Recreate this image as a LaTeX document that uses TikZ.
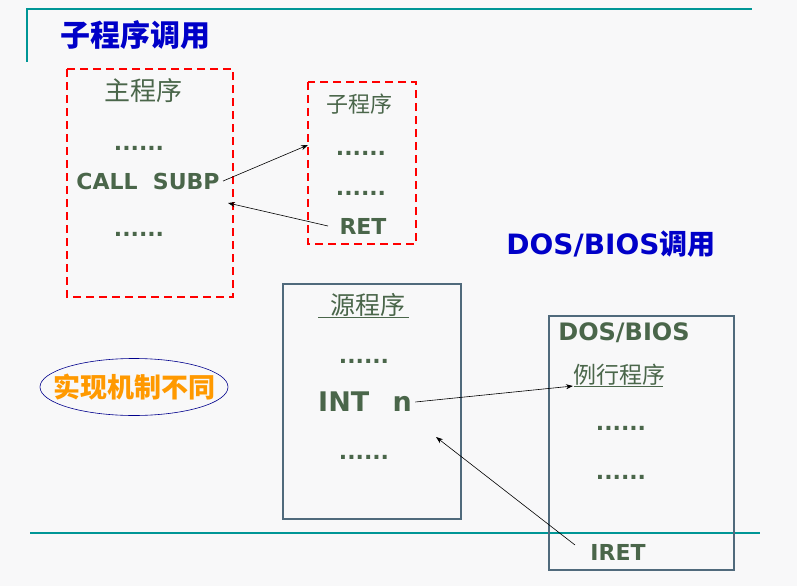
\documentclass[tikz,border=0pt]{standalone}
\usepackage{fontspec}
\setmainfont{DejaVu Sans}
\newfontfamily\cjk{Noto Sans CJK SC}
\usetikzlibrary{arrows.meta,shapes.geometric}
\definecolor{slidebg}{RGB}{248,248,249}
\definecolor{rulecol}{RGB}{0,150,150}
\definecolor{txtcol}{RGB}{74,102,74}
\definecolor{boxcol}{RGB}{80,106,124}
\definecolor{headcol}{RGB}{0,0,200}
\definecolor{orangecol}{RGB}{255,153,0}
\tikzset{
  redbox/.style={draw=red, line width=2.2pt, dash pattern=on 8pt off 5pt},
  greybox/.style={draw=boxcol, line width=2.6pt},
  body/.style={text=txtcol, font=\bfseries\fontsize{22}{22}\selectfont},
  dotline/.style={text=txtcol, font=\bfseries\fontsize{22}{22}\selectfont},
  cjktxt/.style={text=txtcol, font=\cjk\fontsize{#1}{#1}\selectfont},
  jump/.style={-{Stealth[length=7pt,width=5pt]}, line width=0.6pt}
}

\begin{document}
\begin{tikzpicture}[x=1pt, y=-1pt]
  \useasboundingbox[fill=slidebg] (0,0) rectangle (797,586);
  % frame lines
  \draw [rulecol, line width=1.2pt] (27,62) -- (27,9) -- (752,9);
  \draw [rulecol, line width=1.2pt] (30,533) -- (760,533);
  \node [text=headcol, font=\cjk\bfseries\fontsize{30}{30}\selectfont] (title) at (135,35) {子程序调用};

  % subroutine call
  \draw [redbox] (67,69) rectangle (233,297);
  \draw [redbox] (308,82) rectangle (416,244);
  \node [cjktxt=26] (mainp) at (143,91) {主程序};
  \node [dotline] (md1) at (139,148) {......};
  \node [body] (call) at (148,181) {CALL\ \ SUBP};
  \node [dotline] (md2) at (139,234) {......};
  \node [cjktxt=22] (subp) at (359,104) {子程序};
  \node [dotline] (sd1) at (361,153) {......};
  \node [dotline] (sd2) at (361,193) {......};
  \node [body] (ret) at (363,226) {RET};
  \coordinate (subin) at (308,145);
  \coordinate (callback) at (228,203);
  \coordinate (retout) at (328,226);
  \draw [jump] (call.east) -- (subin);
  \draw [jump] (retout) -- (callback);

  % DOS/BIOS call
  \node [text=headcol, font=\bfseries\fontsize{28}{28}\selectfont] (dostitle) at (611,244) {DOS/BIOS{\cjk 调用}};
  \draw [greybox] (283,284) rectangle (461,519);
  \draw [greybox] (549,316) rectangle (734,570);
  \node [cjktxt=25] (srcp) at (368,305) {源程序};
  \draw [txtcol, line width=0.8pt] (318,317) -- (409,317);
  \node [dotline] (pd1) at (364,361) {......};
  \node [body, font=\bfseries\fontsize{27}{27}\selectfont] (intn) at (365,402) {INT\ \ \,n};
  \node [dotline] (pd2) at (364,457) {......};
  \node [body, font=\bfseries\fontsize{24}{24}\selectfont] (dos) at (624,333) {DOS/BIOS};
  \node [cjktxt=23] (rout) at (619,375) {例行程序};
  \draw [txtcol, line width=0.8pt] (574,386) -- (663,386);
  \node [dotline] (rd1) at (621,428) {......};
  \node [dotline] (rd2) at (621,477) {......};
  \node [body] (iret) at (618,552) {IRET};
  \coordinate (intback) at (436,437);
  \coordinate (iretout) at (575,545);
  \coordinate (routin) at (573,386);
  \draw [jump] (intn.east) -- (routin);
  \draw [jump] (iretout) -- (intback);

  \node [draw=headcol!70!black, line width=0.6pt, ellipse, minimum width=188pt, minimum height=57pt, inner sep=0pt] (diff) at (134,387) {};
  \node [text=orangecol, font=\cjk\bfseries\fontsize{27}{27}\selectfont] (difftxt) at (diff.center) {实现机制不同};
\end{tikzpicture}
\end{document}
